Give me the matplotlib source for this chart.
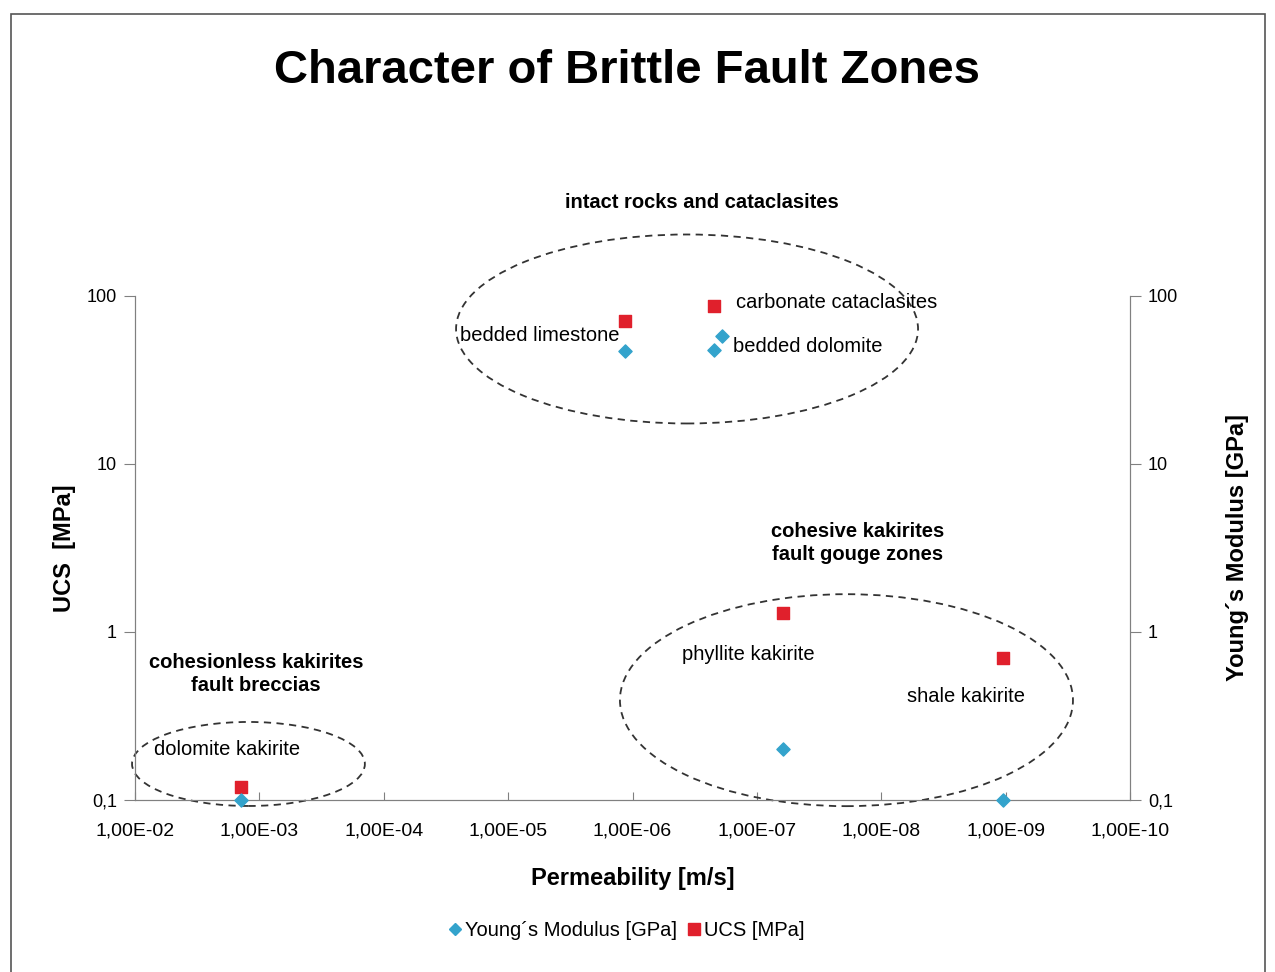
import matplotlib.pyplot as plt
import numpy as np
from matplotlib.patches import Ellipse, Rectangle
from matplotlib.ticker import FixedLocator, FuncFormatter, NullLocator

plt.rcParams['font.family'] = ['Liberation Sans', 'DejaVu Sans']

# dane
rocks_ucs = ['dolomite kakirite', 'bedded limestone', 'carbonate cataclasites',
             'phyllite kakirite', 'shale kakirite']
perm_ucs = [1.4e-3, 1.15e-6, 2.2e-7, 6.2e-8, 1.05e-9]
ucs = [0.12, 71, 87, 1.3, 0.7]

perm_young = [1.4e-3, 1.15e-6, 1.9e-7, 2.2e-7, 6.2e-8, 1.05e-9]
young = [0.1, 47, 58, 48, 0.2, 0.1]

x_ticks = [1e-2, 1e-3, 1e-4, 1e-5, 1e-6, 1e-7, 1e-8, 1e-9, 1e-10]
y_ticks = [0.1, 1, 10, 100]

blue = '#33a3cc'
red = '#e0202c'
grey = '#808080'
fs = 14.5


def comma_sci(v, pos):
    s = f'{v:.2E}'
    return s.replace('.', ',')


def comma_plain(v, pos):
    if v < 1:
        return f'{v:g}'.replace('.', ',')
    return f'{v:g}'


fig = plt.figure(figsize=(12.75, 9.72), dpi=100)
ax = fig.add_axes([0.1059, 0.1770, 0.7804, 0.5185])
ax2 = ax.twinx()

for a in (ax, ax2):
    a.set_xscale('log')
    a.set_yscale('log')
    a.set_ylim(0.1, 100)
    a.spines['top'].set_visible(False)
    for s in ('left', 'right', 'bottom'):
        a.spines[s].set_color(grey)
    a.yaxis.set_major_locator(FixedLocator(y_ticks))
    a.yaxis.set_minor_locator(NullLocator())
    a.yaxis.set_major_formatter(FuncFormatter(comma_plain))
    a.tick_params(axis='y', direction='out', length=8, color=grey, labelsize=13, pad=5)
ax.set_xlim(1e-2, 1e-10)
ax.xaxis.set_major_locator(FixedLocator(x_ticks))
ax.xaxis.set_minor_locator(NullLocator())
ax.xaxis.set_major_formatter(FuncFormatter(comma_sci))
ax.tick_params(axis='x', direction='in', length=6, color=grey, labelsize=14, pad=16)

ax.scatter(perm_ucs, ucs, marker='s', s=75, color=red, zorder=5, clip_on=False)
ax2.scatter(perm_young, young, marker='D', s=45, color=blue, zorder=5, clip_on=False)

ax.set_xlabel('Permeability [m/s]', fontsize=17, fontweight='bold', labelpad=20)
ax.set_ylabel('UCS  [MPa]', fontsize=17, fontweight='bold', labelpad=8)
ax2.set_ylabel('Young´s Modulus [GPa]', fontsize=17, fontweight='bold', labelpad=34)

# elipsy grup
for cx, cy, w, h in [(0.5548, 0.9345, 0.4643, 0.375),
                     (0.715, 0.198, 0.4553, 0.4206),
                     (0.114, 0.0714, 0.234, 0.1667)]:
    ax.add_patch(Ellipse((cx, cy), w, h, transform=ax.transAxes, fill=False,
                         linestyle=(0, (4, 3)), linewidth=1.3, edgecolor='#333333',
                         clip_on=False, zorder=3))

# opisy punktow
ax.text(0.4874, 0.9206, 'bedded limestone', transform=ax.transAxes, ha='right', va='center', fontsize=fs)
ax.text(0.604, 0.988, 'carbonate cataclasites', transform=ax.transAxes, ha='left', va='center', fontsize=fs)
ax.text(0.601, 0.899, 'bedded dolomite', transform=ax.transAxes, ha='left', va='center', fontsize=fs)
ax.text(0.616, 0.2877, 'phyllite kakirite', transform=ax.transAxes, ha='center', va='center', fontsize=fs)
ax.text(0.835, 0.2044, 'shale kakirite', transform=ax.transAxes, ha='center', va='center', fontsize=fs)
ax.text(0.0925, 0.101, 'dolomite kakirite', transform=ax.transAxes, ha='center', va='center', fontsize=fs)

ax.text(0.5698, 1.1845, 'intact rocks and cataclasites', transform=ax.transAxes,
        ha='center', va='center', fontsize=fs, fontweight='bold')
ax.text(0.7266, 0.51, 'cohesive kakirites\nfault gouge zones', transform=ax.transAxes,
        ha='center', va='center', fontsize=fs, fontweight='bold', linespacing=1.3)
ax.text(0.1216, 0.25, 'cohesionless kakirites\nfault breccias', transform=ax.transAxes,
        ha='center', va='center', fontsize=fs, fontweight='bold', linespacing=1.3)

fig.text(0.492, 0.927, 'Character of Brittle Fault Zones', ha='center', va='center',
         fontsize=34, fontweight='bold')

h1 = plt.Line2D([], [], marker='D', color=blue, linestyle='none', markersize=6)
h2 = plt.Line2D([], [], marker='s', color=red, linestyle='none', markersize=8)
fig.legend([h1, h2], ['Young´s Modulus [GPa]', 'UCS [MPa]'], loc='center',
           bbox_to_anchor=(0.49, 0.043), ncol=2, frameon=False, fontsize=fs,
           handletextpad=0.0, columnspacing=0.3, handlelength=1.0)

fig.patches.append(Rectangle((0.009, -0.01), 0.983, 0.996, transform=fig.transFigure,
                             fill=False, edgecolor='#555555', linewidth=1.2))

fig.savefig('out.png', dpi=100)
